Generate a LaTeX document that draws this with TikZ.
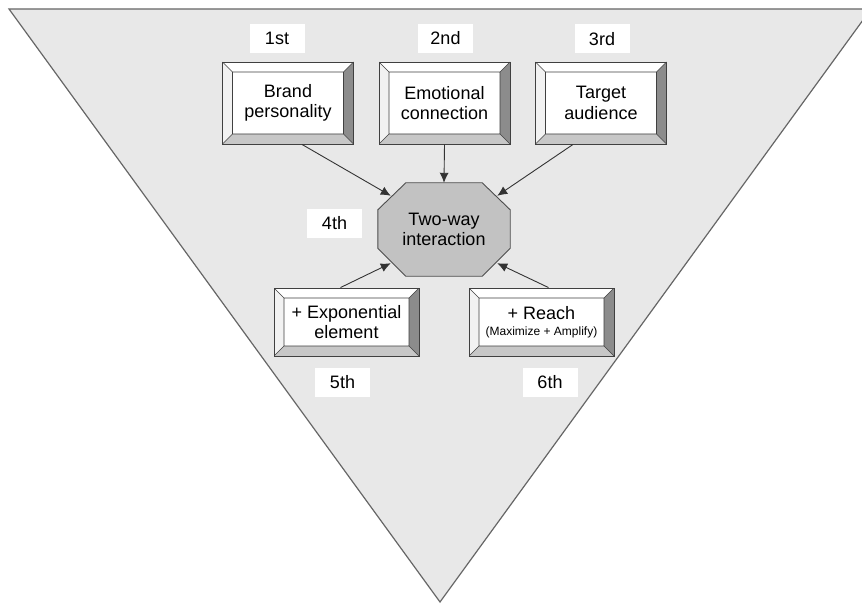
\documentclass[tikz,border=0pt]{standalone}
\usepackage{fontspec}
\setmainfont{Liberation Sans}
\usetikzlibrary{arrows.meta, backgrounds, positioning}

\tikzset{
  txt/.style={font=\fontsize{18}{20.5}\selectfont},
  rank/.style={txt, fill=white, minimum width=55pt, minimum height=29pt, inner sep=0pt},
  bevel/.style={txt, draw=black!75, line width=0.9pt, fill=white, minimum width=131pt, minimum height=82pt,
    align=center, inner sep=0pt,
    path picture={
      \fill[black!5] (path picture bounding box.north west) -- (path picture bounding box.south west)
        -- ([shift={(10pt,10pt)}]path picture bounding box.south west) -- ([shift={(10pt,-10pt)}]path picture bounding box.north west) -- cycle;
      \fill[black!22] (path picture bounding box.south west) -- (path picture bounding box.south east)
        -- ([shift={(-10pt,10pt)}]path picture bounding box.south east) -- ([shift={(10pt,10pt)}]path picture bounding box.south west) -- cycle;
      \fill[black!45] (path picture bounding box.north east) -- (path picture bounding box.south east)
        -- ([shift={(-10pt,10pt)}]path picture bounding box.south east) -- ([shift={(-10pt,-10pt)}]path picture bounding box.north east) -- cycle;
      \draw[black!75, line width=0.6pt] ([shift={(10pt,-10pt)}]path picture bounding box.north west) rectangle ([shift={(-10pt,10pt)}]path picture bounding box.south east)
        (path picture bounding box.north west) -- ++(10pt,-10pt)
        (path picture bounding box.north east) -- ++(-10pt,-10pt)
        (path picture bounding box.south west) -- ++(10pt,10pt)
        (path picture bounding box.south east) -- ++(-10pt,10pt);
    }},
  hub/.style={txt, minimum width=132pt, minimum height=93pt, align=center, inner sep=0pt},
  link/.style={draw=black!80, line width=0.9pt, -{Latex[length=10pt, width=9pt]}}
}

\begin{document}
\begin{tikzpicture}[x=1pt, y=-1pt]
  \useasboundingbox (0,0) rectangle (862,604);

  \node[bevel] (brand) at (288, 103) {Brand\\personality};
  \node[bevel] (emotion) at (444.5, 103) {Emotional\\connection};
  \node[bevel] (target) at (601, 103) {Target\\audience};
  \node[hub] (two) at (444, 229.5) {Two-way\\interaction};
  \node[bevel, minimum width=145pt, minimum height=68pt] (expo) at (346.5, 322) {+ Exponential\\element};
  \node[bevel, minimum width=145pt, minimum height=68pt] (reach) at (541.5, 322)
    {+ Reach\\[-4.5pt]{\fontsize{12}{13}\selectfont (Maximize + Amplify)}};

  \node[rank] (r1) at (277, 38.5) {1st};
  \node[rank] (r2) at (445.5, 38.5) {2nd};
  \node[rank] (r3) at (602, 39) {3rd};
  \node[rank] (r4) at (334.5, 223.5) {4th};
  \node[rank] (r5) at (342.5, 382.5) {5th};
  \node[rank] (r6) at (550, 382.5) {6th};

  \begin{scope}[on background layer]
    \clip (0,0) rectangle (862,604);
    \filldraw[fill=black!9, draw=black!60, line width=1.2pt] (9,9) -- (871,9) -- (440,602) -- cycle;
    \filldraw[fill=black!24, draw=black!70, line width=0.9pt]
      ([yshift=-27pt]two.north west) -- ([xshift=28pt]two.north west) -- ([xshift=-28pt]two.north east)
      -- ([yshift=-27pt]two.north east) -- ([yshift=28pt]two.south east) -- ([xshift=-28pt]two.south east)
      -- ([xshift=28pt]two.south west) -- ([yshift=28pt]two.south west) -- cycle;
  \end{scope}

  \draw[link] ([xshift=14pt]brand.south) -- ([shift={(13pt,-13pt)}]two.north west);
  \draw[link] (emotion.south) -- (two.north);
  \draw[link] ([xshift=-28pt]target.south) -- ([shift={(-13pt,-13pt)}]two.north east);
  \draw[link] ([xshift=-6pt]expo.north) -- ([shift={(13pt,13pt)}]two.south west);
  \draw[link] ([xshift=7pt]reach.north) -- ([shift={(-13pt,13pt)}]two.south east);
\end{tikzpicture}
\end{document}
